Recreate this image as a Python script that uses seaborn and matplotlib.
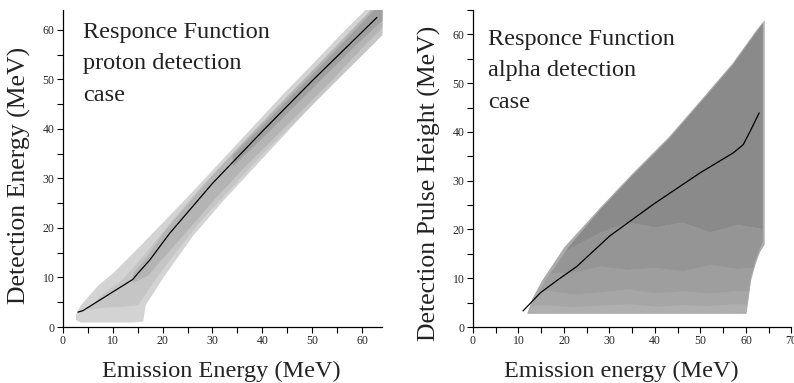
import numpy as np
import seaborn as sns
import matplotlib
matplotlib.use("Agg")
import matplotlib.pyplot as plt
from matplotlib.ticker import MultipleLocator

# ---- proton detection case (left) ----
p_line_x = [3, 4, 14, 15, 17.4, 21.4, 30, 40, 50, 63]
p_line_y = [3, 3.3, 9.6, 10.8, 13.5, 18.9, 29, 39.5, 49.7, 62.5]

# contour levels, outer to inner: (x, lower, upper)
p1_x = [2.5, 3.5, 7, 10, 14, 16, 16.5, 20, 26, 32, 38, 44, 50, 56, 62, 64]
p1_hi = [2.5, 4.5, 8.5, 11.0, 15.0, 17.0, 17.6, 21.2, 27.5, 34.0, 40.5, 47.0, 53.2, 59.5, 65.5, 67.0]
p1_lo = [1.5, 1.0, 1.0, 1.0, 1.0, 1.2, 4.5, 10.0, 18.5, 25.5, 32.0, 38.5, 45.0, 51.5, 57.5, 59.5]

p2_x = [5, 8, 12, 15, 18, 22, 28, 34, 40, 46, 52, 58, 64]
p2_hi = [4.0, 6.8, 9.8, 13.2, 16.8, 21.8, 28.8, 35.2, 41.5, 47.8, 54.0, 60.3, 66.0]
p2_lo = [3.5, 4.0, 4.2, 4.5, 9.0, 14.5, 22.0, 28.5, 35.0, 41.0, 47.0, 53.0, 59.0]

p3_x = [14, 17, 20, 24, 30, 36, 42, 48, 54, 60, 64]
p3_hi = [10.8, 14.6, 19.0, 23.8, 30.8, 37.3, 43.6, 49.8, 56.0, 62.3, 66.5]
p3_lo = [9.0, 10.5, 14.0, 18.5, 25.5, 32.0, 38.0, 44.0, 50.0, 56.5, 60.5]

p4_x = [34, 40, 46, 52, 58, 64]
p4_hi = [34.8, 40.8, 47.0, 53.2, 59.5, 65.8]
p4_lo = [32.5, 38.3, 44.3, 50.3, 56.3, 62.0]

p_colors = ["#d3d3d3", "#c5c5c5", "#b4b4b4", "#a0a0a0"]

# ---- alpha detection case (right) ----
a_line_x = [11.0, 14.8, 18.4, 22.8, 30.1, 39.7, 49.9, 57.2, 59.4, 60.9, 62.9]
a_line_y = [3.3, 7.0, 9.5, 12.4, 18.7, 25.2, 31.6, 35.7, 37.4, 40.1, 43.9]

env_x = [11.8, 13, 15, 20, 28, 35, 43, 50, 57, 60, 61, 62, 63, 64]
env_hi = [2.8, 6.0, 9.5, 16.5, 24.7, 31.6, 39.1, 46.6, 54.2, 58.1, 59.4, 60.7, 61.9, 63.0]
env_lo = [2.8, 2.8, 2.8, 2.8, 2.8, 2.8, 2.8, 2.8, 2.8, 2.8, 9.6, 13.0, 15.5, 17.0]

core_x = [12.4, 14, 16, 21, 28, 35, 43, 50, 57, 60, 61, 62, 63, 63.7]
core_hi = [3.2, 6.3, 9.6, 16.4, 24.1, 31.0, 38.5, 46.0, 53.6, 57.5, 58.8, 60.1, 61.3, 62.2]
core_lo = [3.0, 3.0, 3.0, 3.0, 3.0, 3.0, 3.0, 3.0, 3.0, 3.2, 10.0, 13.4, 16.0, 17.5]

# band boundaries inside the alpha response
band_x = [10, 16, 22, 28, 34, 40, 46, 52, 58, 65]
band1 = [4.3, 4.6, 4.2, 4.5, 4.8, 4.3, 4.6, 4.4, 4.8, 4.5]
band2 = [7.0, 7.5, 6.8, 7.2, 7.8, 7.0, 7.4, 6.9, 7.5, 7.2]
band3 = [10.5, 11.0, 11.2, 12.5, 11.8, 12.2, 11.5, 12.8, 12.0, 12.5]
band4 = [13.0, 14.0, 16.5, 19.5, 21.5, 20.5, 21.5, 19.5, 21.0, 20.0]
band_top = [70] * len(band_x)
band_bottom = [0] * len(band_x)

a_colors = ["#afafaf", "#a6a6a6", "#9e9e9e", "#959595", "#8a8a8a"]
env_color = "#ababab"

sns.set_theme(style="ticks")
plt.rcParams['font.family'] = ['Liberation Serif', 'DejaVu Serif']

fig = plt.figure(figsize=(7.94, 3.83), dpi=100)
ax1 = fig.add_axes([0.0793, 0.1462, 0.4017, 0.8277])
ax2 = fig.add_axes([0.5957, 0.1462, 0.4011, 0.8277])

# left panel
levels = [(p1_x, p1_lo, p1_hi), (p2_x, p2_lo, p2_hi), (p3_x, p3_lo, p3_hi), (p4_x, p4_lo, p4_hi)]
for (lx, lo, hi), c in zip(levels, p_colors):
    ax1.fill_between(lx, lo, hi, color=c, linewidth=0)
sns.lineplot(x=p_line_x, y=p_line_y, ax=ax1, color="black", linewidth=0.9, sort=False)

# right panel
ax2.fill_between(env_x, env_lo, env_hi, color=env_color, linewidth=0)
core = ax2.fill_between(core_x, core_lo, core_hi, color=a_colors[0], linewidth=0)
clip_path = core.get_paths()[0]
bounds = [band_bottom, band1, band2, band3, band4, band_top]
for i, c in enumerate(a_colors):
    if i == 0:
        continue
    coll = ax2.fill_between(band_x, bounds[i], bounds[i + 1], color=c, linewidth=0)
    coll.set_clip_path(clip_path, ax2.transData)
sns.lineplot(x=a_line_x, y=a_line_y, ax=ax2, color="black", linewidth=0.9, sort=False)

for ax, xmax, ymax in [(ax1, 64, 64), (ax2, 70, 65)]:
    ax.set_xlim(0, xmax)
    ax.set_ylim(0, ymax)
    ax.xaxis.set_major_locator(MultipleLocator(10))
    ax.xaxis.set_minor_locator(MultipleLocator(5))
    ax.yaxis.set_major_locator(MultipleLocator(10))
    ax.yaxis.set_minor_locator(MultipleLocator(5))
    ax.tick_params(which='both', direction='out', length=4, width=0.8, color='black',
                   labelsize=8.5, pad=2)
    for s in ['top', 'right']:
        ax.spines[s].set_visible(False)
    for s in ['left', 'bottom']:
        ax.spines[s].set_color('black')
        ax.spines[s].set_linewidth(0.9)
    ax.set_facecolor('white')

ax1.set_xlabel("Emission Energy (MeV)", fontsize=17.5, color='#222222')
ax1.set_ylabel("Detection Energy (MeV)", fontsize=18.5, color='#222222')
ax2.set_xlabel("Emission energy (MeV)", fontsize=17.5, color='#222222')
ax2.set_ylabel("Detection Pulse Height (MeV)", fontsize=18.5, color='#222222')
ax1.xaxis.set_label_coords(0.498, -0.106)
ax2.xaxis.set_label_coords(0.466, -0.106)
ax1.yaxis.set_label_coords(-0.1, 0.478)
ax2.yaxis.set_label_coords(-0.101, 0.454)

ax1.text(0.063, 0.962, "Responce Function\nproton detection\ncase", transform=ax1.transAxes,
         fontsize=17.5, va='top', ha='left', linespacing=1.65, color='#222222')
ax2.text(0.047, 0.94, "Responce Function\nalpha detection\ncase", transform=ax2.transAxes,
         fontsize=17.5, va='top', ha='left', linespacing=1.65, color='#222222')

fig.savefig("out.png", dpi=100)
